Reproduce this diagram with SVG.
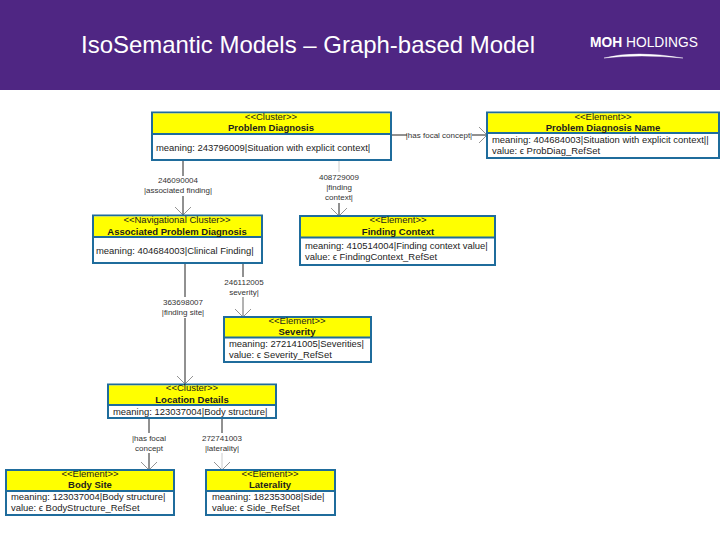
<svg xmlns="http://www.w3.org/2000/svg" width="720" height="540" viewBox="0 0 720 540">
<style>
text{font-family:"Liberation Sans",Arial,sans-serif;fill:#1c1c1c}
.box{fill:#fff;stroke:#1f6c9c;stroke-width:2}
.hd{fill:#ffff00}
.dv{stroke:#1f6c9c;stroke-width:2;fill:none}
.st{font-size:9.5px;text-anchor:middle}
.nm{font-size:9.5px;font-weight:700;text-anchor:middle}
.tx{font-size:9.45px}
.lb{font-size:8px;text-anchor:middle;fill:#333}
.cn{fill:none;stroke:#222;stroke-width:1;marker-end:url(#v)}
.pl{fill:none;stroke:#222;stroke-width:1}
</style>
<defs>
<marker id="v" markerUnits="userSpaceOnUse" markerWidth="12" markerHeight="20" refX="9.5" refY="10" orient="auto">
<path d="M1.5 2L9.5 10L1.5 18" fill="none" stroke="#666" stroke-width="0.7"/>
</marker>
</defs>
<rect width="720" height="90" fill="#4f2683"/>
<text x="81" y="53" style="font-size:23.8px;fill:#fff" textLength="454" lengthAdjust="spacingAndGlyphs">IsoSemantic Models – Graph-based Model</text>
<g id="logo">
<text x="590" y="47" style="font-size:15px;fill:#fff" textLength="108" lengthAdjust="spacingAndGlyphs"><tspan style="font-weight:700;fill:#fff">MOH</tspan> HOLDINGS</text>
<path d="M604 58Q635 50 683 58Q640 54 604 58Z" fill="#fff" stroke="#fff" stroke-width="0.4"/>
</g>
<g id="connectors">
<path class="cn" d="M183 160V176M183 196V215"/>
<path class="pl" style="stroke:#ccc" d="M339 160V172"/>
<path class="cn" d="M339 203V216"/>
<path class="cn" d="M391 135H407M472 135H487"/>
<path class="cn" d="M185 263V297M185 318V384"/>
<path class="pl" d="M243 263V277"/>
<path class="cn" style="stroke:#666" d="M243 297V317"/>
<path class="cn" d="M149 418V433M149 453V470"/>
<path class="pl" d="M222 418V433"/>
<path class="cn" style="stroke:#ccc" d="M222 453V470"/>
<text class="lb" x="178" y="183">246090004</text>
<text class="lb" x="178" y="193">|associated finding|</text>
<text class="lb" x="339" y="180">408729009</text>
<text class="lb" x="339" y="190">|finding</text>
<text class="lb" x="339" y="200">context|</text>
<text class="lb" x="439" y="138">|has focal concept|</text>
<text class="lb" x="183" y="305">363698007</text>
<text class="lb" x="183" y="315">|finding site|</text>
<text class="lb" x="244" y="285">246112005</text>
<text class="lb" x="244" y="295">severity|</text>
<text class="lb" x="149" y="441">|has focal</text>
<text class="lb" x="149" y="451">concept</text>
<text class="lb" x="222" y="441">272741003</text>
<text class="lb" x="222" y="451">|laterality|</text>
</g>
<g id="problem-diagnosis">
<rect class="box" x="152" y="112.5" width="239" height="47.5"/>
<rect class="hd" x="153" y="113.5" width="237" height="20"/>
<path class="dv" d="M152 134H391"/>
<text class="st" x="271" y="120">&lt;&lt;Cluster&gt;&gt;</text>
<text class="nm" x="271" y="131">Problem Diagnosis</text>
<text class="tx" x="156" y="151">meaning: 243796009|Situation with explicit context|</text>
</g>
<g id="problem-diagnosis-name">
<rect class="box" x="487" y="112.5" width="232" height="45.5"/>
<rect class="hd" x="488" y="113.5" width="230" height="19"/>
<path class="dv" d="M487 133H719"/>
<text class="st" x="603" y="120">&lt;&lt;Element&gt;&gt;</text>
<text class="nm" x="603" y="131">Problem Diagnosis Name</text>
<text class="tx" x="492" y="143">meaning: 404684003|Situation with explicit context||</text>
<text class="tx" x="492" y="154">value: ϵ ProbDiag_RefSet</text>
</g>
<g id="associated-problem-diagnosis">
<rect class="box" x="93" y="215.5" width="169" height="47.5"/>
<rect class="hd" x="94" y="216.5" width="167" height="20"/>
<path class="dv" d="M93 237H262"/>
<text class="st" x="177" y="223">&lt;&lt;Navigational Cluster&gt;&gt;</text>
<text class="nm" x="177" y="235">Associated Problem Diagnosis</text>
<text class="tx" x="96" y="254">meaning: 404684003|Clinical Finding|</text>
</g>
<g id="finding-context">
<rect class="box" x="300" y="216" width="195" height="49"/>
<rect class="hd" x="301" y="217" width="193" height="20"/>
<path class="dv" d="M300 237.5H495"/>
<text class="st" x="398" y="223">&lt;&lt;Element&gt;&gt;</text>
<text class="nm" x="398" y="235">Finding Context</text>
<text class="tx" x="305" y="249">meaning: 410514004|Finding context value|</text>
<text class="tx" x="305" y="260">value: ϵ FindingContext_RefSet</text>
</g>
<g id="severity">
<rect class="box" x="224" y="317" width="147" height="45"/>
<rect class="hd" x="225" y="318" width="145" height="19"/>
<path class="dv" d="M224 337.5H371"/>
<text class="st" x="297" y="324">&lt;&lt;Element&gt;&gt;</text>
<text class="nm" x="297" y="335">Severity</text>
<text class="tx" x="229" y="347">meaning: 272141005|Severities|</text>
<text class="tx" x="229" y="358">value: ϵ Severity_RefSet</text>
</g>
<g id="location-details">
<rect class="box" x="108" y="384.5" width="168" height="33.5"/>
<rect class="hd" x="109" y="385.5" width="166" height="19"/>
<path class="dv" d="M108 405H276"/>
<text class="st" x="192" y="391">&lt;&lt;Cluster&gt;&gt;</text>
<text class="nm" x="192" y="403">Location Details</text>
<text class="tx" x="113" y="415">meaning: 123037004|Body structure|</text>
</g>
<g id="body-site">
<rect class="box" x="6" y="470" width="168" height="45"/>
<rect class="hd" x="7" y="471" width="166" height="20"/>
<path class="dv" d="M6 491H174"/>
<text class="st" x="90" y="477">&lt;&lt;Element&gt;&gt;</text>
<text class="nm" x="90" y="488">Body Site</text>
<text class="tx" x="11" y="500">meaning: 123037004|Body structure|</text>
<text class="tx" x="11" y="511">value: ϵ BodyStructure_RefSet</text>
</g>
<g id="laterality">
<rect class="box" x="206" y="470" width="129" height="45"/>
<rect class="hd" x="207" y="471" width="127" height="20"/>
<path class="dv" d="M206 491H335"/>
<text class="st" x="270" y="477">&lt;&lt;Element&gt;&gt;</text>
<text class="nm" x="270" y="488">Laterality</text>
<text class="tx" x="212" y="500">meaning: 182353008|Side|</text>
<text class="tx" x="212" y="511">value: ϵ Side_RefSet</text>
</g>
</svg>
